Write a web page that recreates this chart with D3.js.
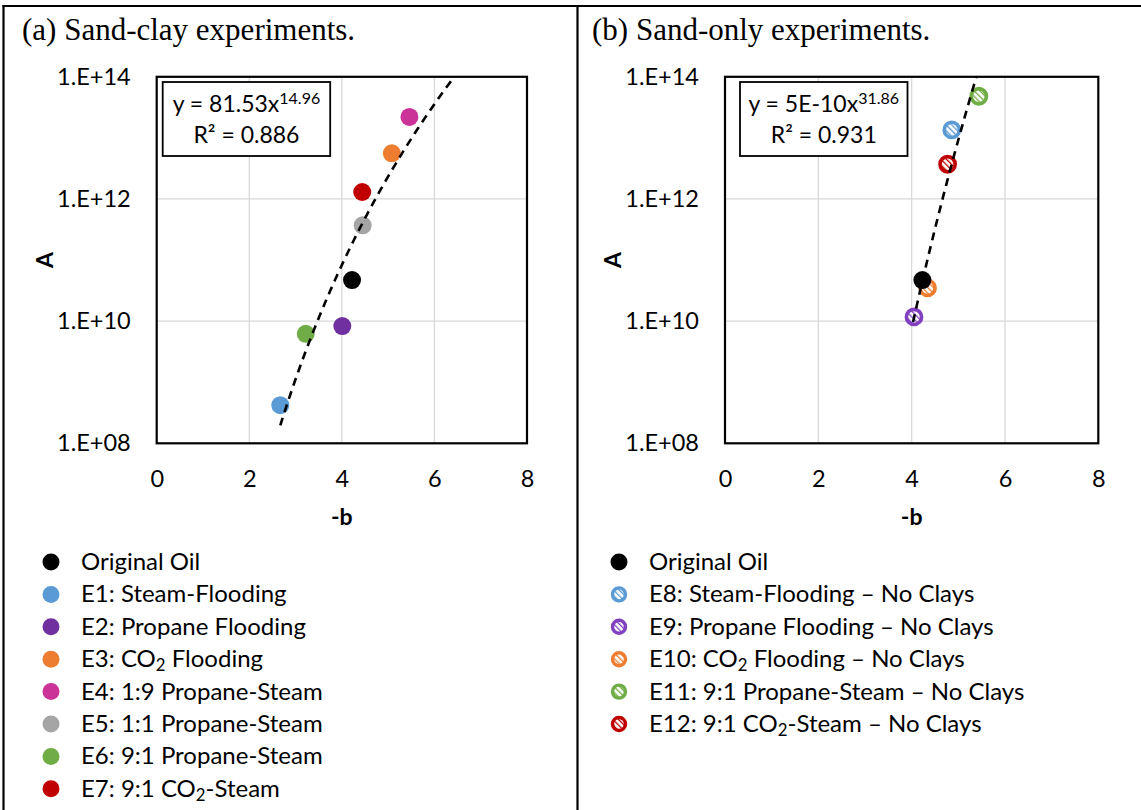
<!DOCTYPE html>
<html>
<head>
<meta charset="utf-8">
<script src="https://cdn.jsdelivr.net/npm/d3@7"></script>
<style>
  html, body { margin: 0; padding: 0; background: #fff; }
  svg { display: block; }
  text { font-family: Lato, "Noto Sans", sans-serif; fill: #000; }
</style>
</head>
<body>
<svg id="fig" width="1141" height="810"></svg>
<script>
// ---- data ----
const panelTitles = ["(a) Sand-clay experiments.", "(b) Sand-only experiments."];

const clayLabels = ["Original Oil", "E1: Steam-Flooding", "E2: Propane Flooding", "E3: CO₂ Flooding",
  "E4: 1:9 Propane-Steam", "E5: 1:1 Propane-Steam", "E6: 9:1 Propane-Steam", "E7: 9:1 CO₂-Steam"];
const clayColors = ["#000000", "#5b9bd5", "#7030a0", "#ed7d31", "#cc3399", "#a5a5a5", "#70ad47", "#c00000"];
const clayB = [4.22, 2.67, 4.01, 5.08, 5.46, 4.45, 3.22, 4.44];
const clayA = [4.7e10, 4.2e8, 8.3e9, 5.6e12, 2.2e13, 3.7e11, 6.2e9, 1.3e12];

const sandLabels = ["Original Oil", "E8: Steam-Flooding – No Clays", "E9: Propane Flooding – No Clays",
  "E10: CO₂ Flooding – No Clays", "E11: 9:1 Propane-Steam – No Clays", "E12: 9:1 CO₂-Steam – No Clays"];
const sandColors = ["#000000", "#5b9bd5", "#8040c0", "#ed7d31", "#70ad47", "#c00000"];
const sandB = [4.23, 4.86, 4.05, 4.34, 5.44, 4.77];
const sandA = [4.7e10, 1.35e13, 1.17e10, 3.5e10, 4.8e13, 3.7e12];

// power-law fits A = c * (-b)^k
const clayFit = { c: 81.53, k: 14.96, r2: "0.886", cText: "81.53", kText: "14.96", range: [2.67, 6.6] };
const sandFit = { c: 5e-10, k: 31.86, r2: "0.931", cText: "5E-10", kText: "31.86", range: [4.03, 5.6] };

const xTicks = [0, 2, 4, 6, 8];
const yTicks = [1e8, 1e10, 1e12, 1e14];
const yTickLabels = ["1.E+08", "1.E+10", "1.E+12", "1.E+14"];

// ---- drawing ----
const svg = d3.select("#fig");

// outer frame and divider
const frame = svg.append("g").attr("stroke", "#000").attr("stroke-width", 2.2);
frame.append("line").attr("x1", 3.5).attr("x2", 3.5).attr("y1", 5).attr("y2", 810);
frame.append("line").attr("x1", 2.5).attr("x2", 1141).attr("y1", 6).attr("y2", 6);
frame.append("line").attr("x1", 577.5).attr("x2", 577.5).attr("y1", 5).attr("y2", 810);

// hatch patterns for the hollow sand-only markers
const defs = svg.append("defs");
sandColors.forEach((c, i) => {
  const p = defs.append("pattern").attr("id", "hatch" + i)
    .attr("patternUnits", "userSpaceOnUse").attr("width", 4).attr("height", 4)
    .attr("patternTransform", "rotate(-45)");
  p.append("rect").attr("width", 4).attr("height", 4).attr("fill", "#fff");
  p.append("rect").attr("width", 1.3).attr("height", 4).attr("fill", c);
});

function addLabel(sel, str) {
  // renders "₂" as a lowered small digit
  const parts = str.split("₂");
  parts.forEach((part, j) => {
    if (j > 0) {
      sel.append("tspan").attr("font-size", "0.7em").attr("dy", 4).text("2");
      sel.append("tspan").attr("dy", -4).text(part);
    } else {
      sel.append("tspan").text(part);
    }
  });
}

function drawPanel(cfg) {
  const g = svg.append("g");
  g.append("text").attr("x", cfg.titleX).attr("y", 40)
    .style("font-family", "'Liberation Serif', 'Times New Roman', serif")
    .attr("font-size", 31).text(cfg.title);

  const x = d3.scaleLinear().domain([0, 8]).range([cfg.left, cfg.right]);
  const y = d3.scaleLog().domain([1e8, 1e14]).range([443.3, 76.8]);

  // gridlines
  const grid = g.append("g").attr("stroke", "#d9d9d9").attr("stroke-width", 1.3);
  grid.selectAll("line.gx").data(xTicks.slice(1, -1)).join("line")
    .attr("x1", d => x(d)).attr("x2", d => x(d)).attr("y1", y(1e14)).attr("y2", y(1e8));
  grid.selectAll("line.gy").data(yTicks.slice(1, -1)).join("line")
    .attr("y1", d => y(d)).attr("y2", d => y(d)).attr("x1", x(0)).attr("x2", x(8));

  // axes (labels only, Excel style)
  const xAxis = g.append("g").attr("transform", `translate(0,${y(1e8)})`)
    .call(d3.axisBottom(x).tickValues(xTicks).tickSize(0).tickPadding(27).tickFormat(d3.format("d")));
  xAxis.select(".domain").remove();
  xAxis.selectAll("text").attr("font-size", 23.5).style("font-family", "Lato, sans-serif");

  const yAxis = g.append("g").attr("transform", `translate(${x(0)},0)`)
    .call(d3.axisLeft(y).tickValues(yTicks).tickSize(0).tickPadding(26)
      .tickFormat((d, i) => yTickLabels[i]));
  yAxis.select(".domain").remove();
  yAxis.selectAll("text").attr("font-size", 23.5).style("font-family", "Lato, sans-serif");

  // plot frame
  g.append("rect").attr("x", x(0)).attr("y", y(1e14))
    .attr("width", x(8) - x(0)).attr("height", y(1e8) - y(1e14))
    .attr("fill", "none").attr("stroke", "#000").attr("stroke-width", 2.2);

  // axis titles
  g.append("text").attr("x", (x(0) + x(8)) / 2).attr("y", 525)
    .attr("text-anchor", "middle").attr("font-size", 23).attr("font-weight", "bold").text("-b");
  g.append("text").attr("transform", `translate(${x(0) - 104},${(y(1e8) + y(1e14)) / 2}) rotate(-90)`)
    .attr("text-anchor", "middle").attr("font-size", 23).attr("font-weight", "bold").text("A");

  const clipId = "clip" + cfg.key;
  defs.append("clipPath").attr("id", clipId).append("rect")
    .attr("x", x(0)).attr("y", y(1e14)).attr("width", x(8) - x(0)).attr("height", y(1e8) - y(1e14));

  // markers: hollow ones first, the original oil on top
  const pts = cfg.b.map((b, i) => ({ b, a: cfg.a[i], i }));
  const order = pts.slice(1).concat(pts.slice(0, 1));
  const mk = g.append("g");
  order.forEach(p => {
    if (cfg.hollow && p.i > 0) {
      mk.append("circle").attr("cx", x(p.b)).attr("cy", y(p.a)).attr("r", 7.6)
        .attr("fill", `url(#hatch${p.i})`).attr("stroke", cfg.colors[p.i]).attr("stroke-width", 3.6);
    } else {
      mk.append("circle").attr("cx", x(p.b)).attr("cy", y(p.a)).attr("r", 9)
        .attr("fill", cfg.colors[p.i]);
    }
  });

  // power-law trendline
  const fit = cfg.fit;
  const xs = d3.range(fit.range[0], fit.range[1] + 1e-9, (fit.range[1] - fit.range[0]) / 80);
  const line = d3.line().x(d => x(d)).y(d => y(fit.c * Math.pow(d, fit.k)));
  g.append("path").datum(xs).attr("clip-path", `url(#${clipId})`)
    .attr("d", line).attr("fill", "none").attr("stroke", "#000")
    .attr("stroke-width", 2.6).attr("stroke-dasharray", "8,6");

  // equation box
  const bx = x(0) + cfg.boxDx, bw = 167.5, by = 82, bh = 74;
  g.append("rect").attr("x", bx).attr("y", by).attr("width", bw).attr("height", bh)
    .attr("fill", "#fff").attr("stroke", "#000").attr("stroke-width", 1.8);
  const t1 = g.append("text").attr("x", bx + bw / 2).attr("y", by + 30)
    .attr("text-anchor", "middle").attr("font-size", 23);
  t1.append("tspan").text(`y = ${fit.cText}x`);
  t1.append("tspan").attr("font-size", 16).attr("dy", -8).text(fit.kText);
  g.append("text").attr("x", bx + bw / 2).attr("y", by + 61)
    .attr("text-anchor", "middle").attr("font-size", 23).text(`R² = ${fit.r2}`);

  // legend
  const lg = g.append("g");
  cfg.labels.forEach((lab, i) => {
    const ly = 562 + i * 32.4;
    if (cfg.hollow && i > 0) {
      lg.append("circle").attr("cx", cfg.legX).attr("cy", ly).attr("r", 6.5)
        .attr("fill", `url(#hatch${i})`).attr("stroke", cfg.colors[i]).attr("stroke-width", 3.4);
    } else {
      lg.append("circle").attr("cx", cfg.legX).attr("cy", ly).attr("r", 8.5).attr("fill", cfg.colors[i]);
    }
    const t = lg.append("text").attr("x", cfg.legX + 30).attr("y", ly + 8).attr("font-size", 24);
    addLabel(t, lab);
  });
}

drawPanel({
  key: "a", title: panelTitles[0], titleX: 22, left: 156.7, right: 527,
  labels: clayLabels, colors: clayColors, b: clayB, a: clayA, fit: clayFit,
  hollow: false, boxDx: 6, legX: 51
});
drawPanel({
  key: "b", title: panelTitles[1], titleX: 592, left: 725, right: 1098.3,
  labels: sandLabels, colors: sandColors, b: sandB, a: sandA, fit: sandFit,
  hollow: true, boxDx: 15, legX: 619
});
</script>
</body>
</html>
